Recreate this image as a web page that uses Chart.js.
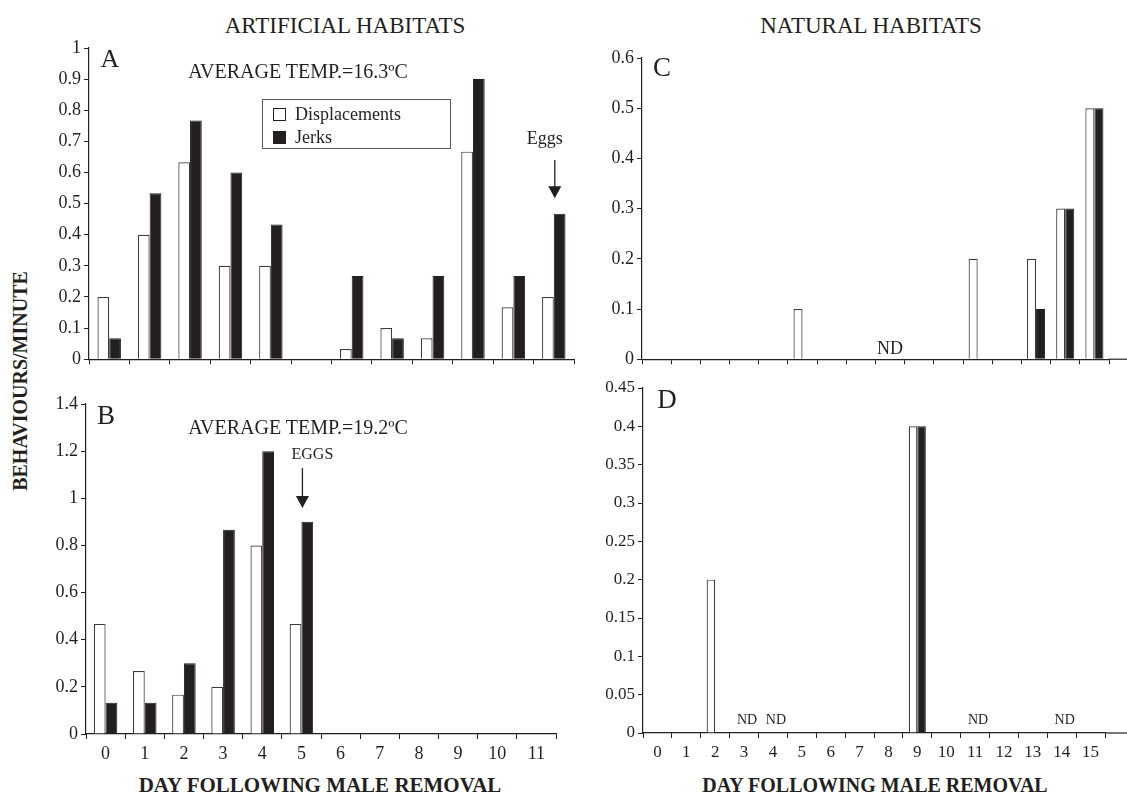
<!DOCTYPE html>
<html>
<head>
<meta charset="utf-8">
<script src="https://cdn.jsdelivr.net/npm/chart.js@4"></script>
<style>
  body { margin: 0; background: #fff; width: 1127px; height: 795px; position: relative; overflow: hidden;
         font-family: "Liberation Serif", "Times New Roman", serif; color: #231f20; }
  .panel { position: absolute; }
  .txt { position: absolute; white-space: nowrap; line-height: 1; transform: translate(-50%, -50%); }
  .bold { font-weight: bold; }
  #legendA { position: absolute; left: 262px; top: 99px; width: 187px; height: 48px; border: 1px solid #555; font-size: 18px; }
  #legendA .row { position: absolute; left: 10px; height: 18px; line-height: 18px; }
  #legendA .sw { display: inline-block; width: 11px; height: 11px; border: 1px solid #231f20; vertical-align: -1px; margin-right: 9px; }
</style>
</head>
<body>

<div class="txt" style="left:345px; top:25px; font-size:23px;">ARTIFICIAL HABITATS</div>
<div class="txt" style="left:871px; top:25px; font-size:23px;">NATURAL HABITATS</div>
<div class="txt bold" style="left:20px; top:381px; font-size:20px; transform: translate(-50%, -50%) rotate(-90deg);">BEHAVIOURS/MINUTE</div>
<div class="txt bold" style="left:320px; top:785px; font-size:21px;">DAY FOLLOWING MALE REMOVAL</div>
<div class="txt bold" style="left:875px; top:785px; font-size:20px;">DAY FOLLOWING MALE REMOVAL</div>

<div class="panel" id="pA"><canvas></canvas></div>
<div class="panel" id="pB"><canvas></canvas></div>
<div class="panel" id="pC"><canvas></canvas></div>
<div class="panel" id="pD"><canvas></canvas></div>

<div class="txt" style="left:110px; top:59px; font-size:26px;">A</div>
<div class="txt" style="left:106px; top:415px; font-size:27px;">B</div>
<div class="txt" style="left:662px; top:67px; font-size:27px;">C</div>
<div class="txt" style="left:667px; top:399px; font-size:27px;">D</div>
<div class="txt" style="left:298px; top:71px; font-size:20px;">AVERAGE TEMP.=16.3ºC</div>
<div class="txt" style="left:298px; top:427px; font-size:20px;">AVERAGE TEMP.=19.2ºC</div>

<div id="legendA">
  <div class="row" style="top:5px;"><span class="sw" style="background:#fff;"></span>Displacements</div>
  <div class="row" style="top:28px;"><span class="sw" style="background:#231f20;"></span>Jerks</div>
</div>

<script>
// days
const daysArtificial = ["0", "1", "2", "3", "4", "5", "6", "7", "8", "9", "10", "11"];
const daysNatural = ["0", "1", "2", "3", "4", "5", "6", "7", "8", "9", "10", "11", "12", "13", "14", "15"];

// A - artificial, 16.3 C
const displacementsA = [0.2, 0.4, 0.633, 0.3, 0.3, 0, 0.033, 0.1, 0.067, 0.667, 0.167, 0.2];
const jerksA = [0.067, 0.533, 0.767, 0.6, 0.433, 0, 0.267, 0.067, 0.267, 0.9, 0.267, 0.467];

// B - artificial, 19.2 C
const displacementsB = [0.467, 0.267, 0.167, 0.2, 0.8, 0.467, null, null, null, null, null, null];
const jerksB = [0.133, 0.133, 0.3, 0.867, 1.2, 0.9, null, null, null, null, null, null];

// C - natural
const displacementsC = [0, 0, 0, 0, 0, 0.1, 0, 0, 0, 0, 0, 0.2, 0, 0.2, 0.3, 0.5];
const jerksC = [0, 0, 0, 0, 0, 0, 0, 0, 0, 0, 0, 0, 0, 0.1, 0.3, 0.5];

// D - natural
const displacementsD = [0, 0, 0.2, 0, 0, 0, 0, 0, 0, 0.4, 0, 0, 0, 0, 0, 0];
const jerksD = [0, 0, 0, 0, 0, 0, 0, 0, 0, 0.4, 0, 0, 0, 0, 0, 0];

const ndDaysC = [8];
const ndDaysD = [3, 4, 11, 14];

const ink = "#231f20";
const family = '"Liberation Serif", "Times New Roman", serif';
const YW = 70, PT = 16, PR = 22;

// text + arrows placed on the data scales
const notesPlugin = {
  id: "notes",
  afterDatasetsDraw(chart, args, opts) {
    const ctx = chart.ctx, x = chart.scales.x, y = chart.scales.y;
    ctx.save();
    ctx.fillStyle = ink;
    ctx.strokeStyle = ink;
    ctx.textAlign = "center";
    ctx.textBaseline = "middle";
    (opts.labels || []).forEach(l => {
      ctx.font = l.size + "px " + family;
      ctx.fillText(l.text, x.getPixelForValue(l.day) + (l.dx || 0), y.getPixelForValue(l.at));
    });
    (opts.arrows || []).forEach(a => {
      const px = x.getPixelForValue(a.day) + (a.dx || 0);
      const y0 = y.getPixelForValue(a.from), y1 = y.getPixelForValue(a.to);
      ctx.lineWidth = 1.3;
      ctx.beginPath();
      ctx.moveTo(px, y0);
      ctx.lineTo(px, y1 - 10);
      ctx.stroke();
      ctx.beginPath();
      ctx.moveTo(px - 6.5, y1 - 12);
      ctx.lineTo(px + 6.5, y1 - 12);
      ctx.lineTo(px, y1);
      ctx.closePath();
      ctx.fill();
    });
    // axis line runs a little past the last category
    if (opts.extend) {
      const yb = chart.chartArea.bottom;
      ctx.lineWidth = 1.2;
      ctx.beginPath();
      ctx.moveTo(chart.chartArea.right, yb);
      ctx.lineTo(chart.chartArea.right + opts.extend, yb);
      ctx.stroke();
    }
    ctx.restore();
  }
};

function makePanel(id, box, labels, disp, jerk, yMax, yStep, showX, catPct, tickSize, notes) {
  const XH = showX ? 36 : 8;
  const W = box.right - box.left + YW + PR;
  const H = box.bottom - box.top + PT + XH + 2;
  const wrap = document.getElementById(id);
  wrap.style.left = (box.left - YW) + "px";
  wrap.style.top = (box.top - PT) + "px";
  const canvas = wrap.querySelector("canvas");
  canvas.width = W;
  canvas.height = H;
  canvas.style.width = W + "px";
  canvas.style.height = H + "px";

  new Chart(canvas, {
    type: "bar",
    data: {
      labels: labels,
      datasets: [
        { label: "Displacements", data: disp, backgroundColor: "#fff", borderColor: "#3c3c3c", borderWidth: 1.2 },
        { label: "Jerks", data: jerk, backgroundColor: ink, borderColor: ink, borderWidth: 1 }
      ]
    },
    plugins: [notesPlugin],
    options: {
      responsive: false,
      animation: false,
      devicePixelRatio: 1,
      layout: { padding: { top: PT, right: PR, bottom: 2, left: 0 } },
      datasets: { bar: { categoryPercentage: catPct, barPercentage: 1 } },
      plugins: { legend: { display: false }, tooltip: { enabled: false }, notes: notes },
      scales: {
        x: {
          grid: { offset: true, drawOnChartArea: false, drawTicks: true, tickLength: 5, color: ink },
          border: { color: ink, width: 1.2 },
          ticks: { display: showX, color: ink, font: { family: family, size: tickSize }, padding: 4, maxRotation: 0, autoSkip: false },
          afterFit: s => { s.height = XH; }
        },
        y: {
          min: 0,
          max: yMax,
          grid: { drawOnChartArea: false, drawTicks: true, tickLength: 5, color: ink },
          border: { color: ink, width: 1.2 },
          ticks: {
            stepSize: yStep, color: ink, padding: 3,
            font: { family: family, size: tickSize },
            callback: v => String(+v.toFixed(2))
          },
          afterFit: s => { s.width = YW; }
        }
      }
    }
  });
}

makePanel("pA", { left: 89, top: 48, right: 574, bottom: 363 }, daysArtificial, displacementsA, jerksA,
  1, 0.1, false, 0.58, 18,
  { labels: [{ text: "Eggs", day: 11, dx: -9, at: 0.708, size: 18 }],
    arrows: [{ day: 11, dx: 1, from: 0.64, to: 0.517 }] });

makePanel("pB", { left: 86, top: 404, right: 556, bottom: 734 }, daysArtificial, displacementsB, jerksB,
  1.4, 0.2, true, 0.6, 18,
  { labels: [{ text: "EGGS", day: 5, dx: 11, at: 1.184, size: 16 }],
    arrows: [{ day: 5, dx: 1, from: 1.128, to: 0.959 }] });

makePanel("pC", { left: 642, top: 58, right: 1109, bottom: 363 }, daysNatural, displacementsC, jerksC,
  0.6, 0.1, false, 0.62, 18,
  { labels: ndDaysC.map(d => ({ text: "ND", day: d, dx: 0, at: 0.02, size: 18 })), arrows: [], extend: 18 });

makePanel("pD", { left: 643, top: 388, right: 1105, bottom: 733 }, daysNatural, displacementsD, jerksD,
  0.45, 0.05, true, 0.59, 17,
  { labels: ndDaysD.map(d => ({ text: "ND", day: d, dx: 3, at: 0.016, size: 14 })), arrows: [], extend: 22 });
</script>
</body>
</html>
